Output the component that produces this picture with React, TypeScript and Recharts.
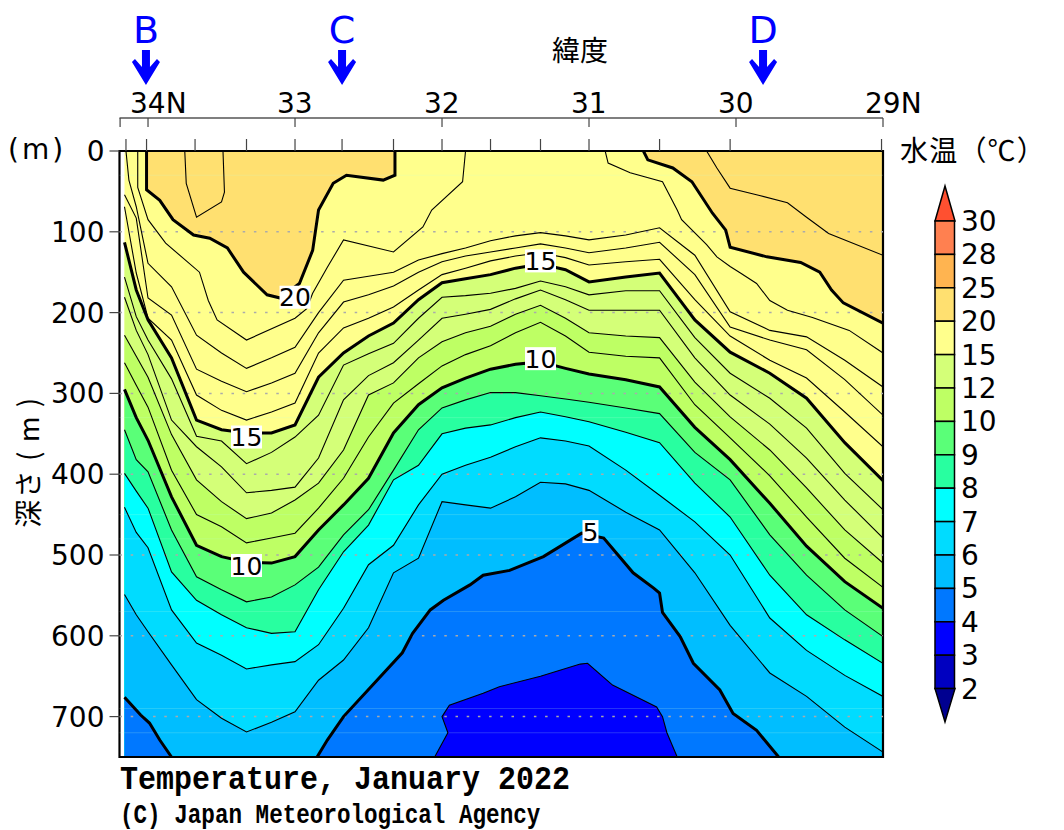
import React from 'react';
import {
  Area,
  ComposedChart,
  Line,
  ReferenceArea,
  ReferenceDot,
  ReferenceLine,
  XAxis,
  YAxis,
} from 'recharts';

// latitude grid shared by the isotherms that cross the whole section
const lats = [34.16, 34.08, 34, 33.84, 33.67, 33.5, 33.33, 33.16, 33, 32.84, 32.67, 32.5, 32.33, 32.16, 32, 31.84, 31.67, 31.5, 31.33, 31.16, 31, 30.75, 30.52, 30.28, 30.04, 29.77, 29.52, 29.26, 29];

// isotherm depths (m) on that grid
const t18 = [0, 69, 139, 168, 228, 250, 269, 256, 243, 200, 160, 155, 150, 135, 127, 120, 111, 105, 101, 105, 110, 104, 95, 129, 199, 222, 230, 259, 292];
const t17 = [54, 83, 182, 203, 270, 285, 298, 287, 275, 225, 187, 178, 167, 150, 137, 130, 125, 120, 115, 120, 126, 120, 113, 153, 218, 234, 246, 283, 327];
const t16 = [69, 151, 207, 234, 302, 321, 333, 323, 312, 250, 219, 207, 193, 172, 153, 145, 136, 130, 126, 132, 141, 137, 134, 184, 229, 259, 281, 323, 366];
const t15 = [113, 172, 209, 256, 333, 345, 349, 349, 339, 280, 250, 229, 213, 184, 163, 158, 153, 145, 140, 147, 162, 156, 151, 209, 249, 275, 306, 361, 408];
const t14 = [156, 205, 234, 282, 353, 359, 387, 373, 354, 327, 265, 251, 238, 207, 181, 179, 176, 170, 161, 168, 178, 173, 173, 231, 275, 306, 343, 399, 444];
const t13 = [181, 222, 252, 333, 366, 391, 423, 420, 416, 380, 308, 278, 262, 234, 207, 202, 196, 183, 172, 184, 197, 197, 197, 256, 302, 338, 380, 432, 479];
const t12 = [228, 254, 280, 351, 407, 434, 455, 448, 432, 411, 370, 302, 287, 256, 236, 225, 217, 202, 191, 207, 225, 229, 231, 286, 329, 370, 417, 469, 510];
const t11 = [262, 290, 317, 395, 450, 465, 485, 479, 473, 442, 405, 354, 312, 288, 266, 252, 241, 225, 212, 229, 249, 254, 256, 314, 355, 402, 453, 504, 540];
const t10 = [295, 330, 358, 428, 488, 502, 509, 510, 502, 469, 438, 405, 349, 314, 293, 281, 270, 264, 261, 269, 276, 283, 292, 342, 382, 436, 489, 533, 566];
const t9 = [345, 382, 397, 469, 527, 543, 558, 552, 537, 515, 475, 444, 395, 345, 318, 308, 299, 299, 303, 307, 311, 318, 325, 373, 407, 475, 525, 568, 601];
const t8 = [399, 421, 442, 521, 556, 574, 590, 597, 595, 543, 496, 463, 407, 389, 350, 343, 339, 330, 323, 329, 335, 348, 361, 411, 453, 525, 574, 605, 634];
const t7 = [441, 472, 491, 568, 609, 624, 641, 636, 632, 611, 566, 512, 488, 438, 400, 389, 379, 366, 355, 359, 365, 395, 426, 459, 500, 578, 618, 649, 675];
const t6 = [549, 574, 595, 636, 679, 702, 719, 707, 694, 655, 630, 590, 522, 504, 434, 438, 442, 428, 410, 412, 420, 447, 469, 522, 587, 646, 675, 713, 744];

// the 18 degree line drops almost straight from the surface at the west end
const lat18West = [34.15, 34.13];
const dep18West = [0, 36];

// isotherms that only exist over part of the section
const lat21West = [33.75, 33.74, 33.67, 33.5, 33.48, 33.49];
const dep21West = [0, 40, 82, 63, 51, 0];
const lat21East = [30.2, 30.13, 30.04, 29.84, 29.65, 29.52, 29.37, 29];
const dep21East = [0, 21, 46, 55, 64, 82, 102, 129];
const lat20West = [34.01, 34.01, 33.92, 33.83, 33.69, 33.58, 33.46, 33.35, 33.19, 33.1, 32.97, 32.88, 32.84, 32.74, 32.65, 32.4, 32.32, 32.32];
const dep20West = [0, 48, 61, 85, 104, 108, 120, 150, 178, 182, 164, 123, 73, 40, 30, 36, 30, 0];
const lat20East = [30.63, 30.6, 30.43, 30.3, 30.16, 30.07, 30.04, 29.79, 29.56, 29.43, 29.35, 29.27, 29];
const dep20East = [0, 11, 21, 38, 77, 98, 119, 131, 138, 150, 172, 188, 213];
const lat19West = [34.07, 34.07, 34, 33.88, 33.65, 33.59, 33.53, 33.33, 33, 32.92, 32.88, 32.78, 32.67, 32.33, 32.13, 32.07, 31.86, 31.84];
const dep19West = [0, 45, 85, 114, 150, 185, 209, 234, 207, 195, 176, 144, 110, 125, 94, 73, 38, 0];
const lat19East = [30.89, 30.87, 30.72, 30.5, 30.4, 30.37, 30.2, 30.13, 30.04, 29.97, 29.86, 29.77, 29.65, 29.48, 29.23, 29];
const dep19East = [0, 15, 27, 38, 73, 85, 116, 131, 143, 151, 164, 185, 197, 206, 222, 250];
const lat5West = [34.16, 34.05, 33.99, 33.92, 33.84];
const dep5West = [676, 698, 708, 729, 750];
const lat5Mid = [32.85, 32.78, 32.67, 32.27, 32.2, 32.08, 31.99, 31.81, 31.72, 31.54, 31.31, 31.05, 30.9, 30.7, 30.56, 30.52, 30.5, 30.38, 30.29, 30.11, 30.02, 29.86, 29.71];
const dep5Mid = [750, 729, 700, 621, 597, 568, 556, 537, 525, 519, 502, 473, 479, 522, 541, 547, 571, 601, 634, 667, 696, 717, 750];
const lat4 = [32.05, 31.96, 32, 31.95, 31.72, 31.61, 31.33, 31.06, 31.01, 30.84, 30.54, 30.5, 30.47, 30.4];
const dep4 = [750, 720, 700, 686, 671, 663, 650, 635, 634, 661, 688, 700, 720, 750];

// axis ticks
const latTicks = [34.19, 34, 33, 32, 31, 30, 29];
const latTickLabels = ['', '34N', '33', '32', '31', '30', '29N'];
const stationLats = [34.15, 34.01, 33.68, 33.33, 33, 32.68, 32.33, 32, 31.67, 31.33, 31, 30.52, 30.04, 29.01];
const depthTicks = [0, 100, 200, 300, 400, 500, 600, 700];
const sampleDepths = [30, 330, 450, 480, 570, 690, 720];

// section markers
const sectionNames = ['B', 'C', 'D'];
const sectionLats = [34.014, 32.68, 29.816];

// contour labels
const labelTexts = ['20', '15', '15', '10', '10', '5'];
const labelLats = [33, 33.33, 31.33, 33.33, 31.33, 30.99];
const labelDepths = [181, 354, 136, 513, 257, 471];

// colour scale
const scaleLabels = ['30', '28', '25', '20', '15', '12', '10', '9', '8', '7', '6', '5', '4', '3', '2'];
const scaleColors = ['#ff8050', '#ffb450', '#ffe070', '#ffff8c', '#d4ff78', '#beff64', '#5aff78', '#28ffa0', '#00ffff', '#00dcff', '#00beff', '#0078ff', '#0000ff', '#0000c0'];

const toRows = (lat: number[], depth: number[]) =>
  lat.map((x, i) => ({ lat: x, depth: depth[i] }));

const FONT = '"DejaVu Sans", sans-serif';
const CJK = '"Noto Sans CJK JP", sans-serif';
const MONO = '"Liberation Mono", monospace';

// warm water sits above the contour, cold water below it
const warmBands = [
  toRows(lat20West, dep20West),
  toRows(lat20East, dep20East),
];
const coldBands = [
  { rows: toRows(lats, t15), fill: '#d4ff78' },
  { rows: toRows(lats, t12), fill: '#beff64' },
  { rows: toRows(lats, t10), fill: '#5aff78' },
  { rows: toRows(lats, t9), fill: '#28ffa0' },
  { rows: toRows(lats, t8), fill: '#00ffff' },
  { rows: toRows(lats, t7), fill: '#00dcff' },
  { rows: toRows(lats, t6), fill: '#00beff' },
  { rows: toRows(lat5West, dep5West), fill: '#0078ff' },
  { rows: toRows(lat5Mid, dep5Mid), fill: '#0078ff' },
  { rows: toRows(lat4, dep4), fill: '#0000ff' },
];
const thinLines = [
  toRows(lat21West, dep21West),
  toRows(lat21East, dep21East),
  toRows(lat19West, dep19West),
  toRows(lat19East, dep19East),
  toRows([...lat18West, ...lats.slice(1)], [...dep18West, ...t18.slice(1)]),
  toRows(lats, t17),
  toRows(lats, t16),
  toRows(lats, t14),
  toRows(lats, t13),
  toRows(lats, t12),
  toRows(lats, t11),
  toRows(lats, t9),
  toRows(lats, t8),
  toRows(lats, t7),
  toRows(lats, t6),
  toRows(lat4, dep4),
];
const thickLines = [
  toRows(lat20West, dep20West),
  toRows(lat20East, dep20East),
  toRows(lats, t15),
  toRows(lats, t10),
  toRows(lat5West, dep5West),
  toRows(lat5Mid, dep5Mid),
];

const LatTick = (props: any) => {
  const { x, y, payload } = props;
  const label = latTickLabels[latTicks.indexOf(payload.value)];
  return (
    <g>
      <line x1={x} x2={x} y1={y} y2={y + 9} stroke="#444" strokeWidth={1.2} />
      <text x={x - 18} y={y - 5} fontSize={28} fontFamily={FONT} fill="#000">
        {label}
      </text>
    </g>
  );
};

const ContourLabel = (props: any) => {
  const { cx, cy, text } = props;
  const w = text.length > 1 ? 31 : 16;
  return (
    <g>
      <rect x={cx - w / 2} y={cy - 11.5} width={w} height={23} fill="#fff" />
      <text x={cx} y={cy + 9} textAnchor="middle" fontSize={25} fontFamily={FONT} fill="#000">
        {text}
      </text>
    </g>
  );
};

const SectionArrow = (props: any) => {
  const { cx, cy, name } = props;
  const tip = cy - 66;
  return (
    <g>
      <text x={cx} y={43} textAnchor="middle" fontSize={38} fontFamily={FONT} fill="#0000ff">
        {name}
      </text>
      <path
        d={`M${cx} ${tip} L${cx + 14} ${tip - 23} L${cx + 11} ${tip - 26} L${cx + 4} ${tip - 18} L${cx + 4} ${tip - 35} L${cx - 4} ${tip - 35} L${cx - 4} ${tip - 18} L${cx - 11} ${tip - 26} L${cx - 14} ${tip - 23} Z`}
        fill="#0000ff"
      />
    </g>
  );
};

function ColorScale() {
  const top = 221;
  const step = 33.4;
  const bottom = top + step * 14;
  return (
    <svg width={130} height={560} style={{ position: 'absolute', left: 934, top: 180 }} viewBox="934 180 130 560">
      <path d={`M945 186 L955 ${top} L935 ${top} Z`} fill="#ff5030" stroke="#000" strokeWidth={1.5} />
      {scaleColors.map((c, i) => (
        <rect key={c} x={935} y={top + step * i} width={19.5} height={step} fill={c} stroke="#000" strokeWidth={1.5} />
      ))}
      <path d={`M935 ${bottom} L955 ${bottom} L945 722 Z`} fill="#000090" stroke="#000" strokeWidth={1.5} />
      {scaleLabels.map((t, i) => (
        <text key={t} x={961} y={top + step * i + 10} fontSize={28} fontFamily={FONT} fill="#000">
          {t}
        </text>
      ))}
    </svg>
  );
}

const pageText = (left: number, top: number, size: number, family: string, extra = {}) => ({
  position: 'absolute' as const,
  left,
  top,
  fontSize: size,
  fontFamily: family,
  lineHeight: 1,
  whiteSpace: 'nowrap' as const,
  color: '#000',
  ...extra,
});

export default function App() {
  return (
    <div style={{ position: 'absolute', left: 0, top: 0, width: 1064, height: 830, background: '#fff', overflow: 'hidden' }}>
      <ComposedChart width={1064} height={830} margin={{ top: 58, right: 181, bottom: 73, left: 0 }}>
        {/* top axes stack by id: the station ticks sit next to the plot */}
        <XAxis
          xAxisId="a-stations"
          type="number"
          dataKey="lat"
          orientation="top"
          reversed
          domain={[29, 34.194]}
          allowDataOverflow
          ticks={stationLats}
          interval={0}
          height={33}
          tickSize={12}
          tick={() => <g />}
          axisLine={false}
          tickLine={{ stroke: '#444', strokeWidth: 1.2 }}
        />
        <XAxis
          xAxisId="lat"
          type="number"
          dataKey="lat"
          orientation="top"
          reversed
          domain={[29, 34.194]}
          allowDataOverflow
          ticks={latTicks}
          interval={0}
          height={60}
          tickSize={0}
          tickMargin={0}
          tick={<LatTick />}
          tickLine={false}
          axisLine={{ stroke: '#555', strokeWidth: 1.5 }}
        />
        <YAxis
          yAxisId="depth"
          type="number"
          reversed
          domain={[0, 750]}
          allowDataOverflow
          ticks={depthTicks}
          interval={0}
          width={119.5}
          tickSize={10}
          tickMargin={5}
          tick={{ fontSize: 28, fontFamily: FONT, fill: '#000' }}
          tickLine={{ stroke: '#444', strokeWidth: 1.2 }}
          axisLine={false}
        />

        <ReferenceArea xAxisId="lat" yAxisId="depth" x1={34.16} x2={29} y1={0} y2={750} fill="#ffff8c" fillOpacity={1} stroke="none" />

        {warmBands.map((rows, i) => (
          <Area
            key={`warm${i}`}
            xAxisId="lat"
            yAxisId="depth"
            data={rows}
            dataKey={(d: any) => [0, d.depth]}
            type="linear"
            fill="#ffe070"
            fillOpacity={1}
            stroke="none"
            dot={false}
            activeDot={false}
            isAnimationActive={false}
          />
        ))}
        {coldBands.map((band, i) => (
          <Area
            key={`cold${i}`}
            xAxisId="lat"
            yAxisId="depth"
            data={band.rows}
            dataKey={(d: any) => [d.depth, 750]}
            type="linear"
            fill={band.fill}
            fillOpacity={1}
            stroke="none"
            dot={false}
            activeDot={false}
            isAnimationActive={false}
          />
        ))}

        {sampleDepths.map((d) => (
          <ReferenceLine key={`s${d}`} xAxisId="lat" yAxisId="depth" y={d} stroke="rgba(190,255,220,0.2)" strokeWidth={1} />
        ))}
        {depthTicks.slice(1).map((d) => (
          <ReferenceLine key={`g${d}`} xAxisId="lat" yAxisId="depth" y={d} stroke="#aaa" strokeWidth={1.5} strokeDasharray="2.5 8.7" />
        ))}

        {thinLines.map((rows, i) => (
          <Line
            key={`thin${i}`}
            xAxisId="lat"
            yAxisId="depth"
            data={rows}
            dataKey="depth"
            type="linear"
            stroke="#000"
            strokeWidth={1.1}
            dot={false}
            activeDot={false}
            isAnimationActive={false}
          />
        ))}
        {thickLines.map((rows, i) => (
          <Line
            key={`thick${i}`}
            xAxisId="lat"
            yAxisId="depth"
            data={rows}
            dataKey="depth"
            type="linear"
            stroke="#000"
            strokeWidth={3}
            dot={false}
            activeDot={false}
            isAnimationActive={false}
          />
        ))}

        <ReferenceArea xAxisId="lat" yAxisId="depth" x1={34.194} x2={29} y1={0} y2={750} fill="none" stroke="#000" strokeWidth={2.2} />

        {labelTexts.map((t, i) => (
          <ReferenceDot
            key={`l${i}`}
            xAxisId="lat"
            yAxisId="depth"
            x={labelLats[i]}
            y={labelDepths[i]}
            ifOverflow="visible"
            shape={(p: any) => <ContourLabel {...p} text={t} />}
          />
        ))}
        {sectionNames.map((name, i) => (
          <ReferenceDot
            key={name}
            xAxisId="lat"
            yAxisId="depth"
            x={sectionLats[i]}
            y={0}
            ifOverflow="visible"
            shape={(p: any) => <SectionArrow {...p} name={name} />}
          />
        ))}
      </ComposedChart>

      <div style={pageText(552, 35, 28, CJK)}>緯度</div>
      <div style={pageText(8, 136, 28, FONT, { letterSpacing: 3 })}>(m)</div>
      <div style={pageText(900, 135, 28, CJK, { letterSpacing: 1.2 })}>水温（℃）</div>
      <div
        style={pageText(27, 462, 28, CJK, {
          letterSpacing: 1.5,
          transform: 'translate(-50%, -50%) rotate(-90deg)',
        })}
      >
        深さ ( m )
      </div>
      <ColorScale />
      <div style={pageText(120, 766, 30, MONO, { fontWeight: 700, transformOrigin: '0 24px', transform: 'scaleY(1.12)' })}>Temperature, January 2022</div>
      <div style={pageText(120, 806, 22.6, MONO, { fontWeight: 700, transformOrigin: '0 18px', transform: 'scaleY(1.2)' })}>(C) Japan Meteorological Agency</div>
    </div>
  );
}
